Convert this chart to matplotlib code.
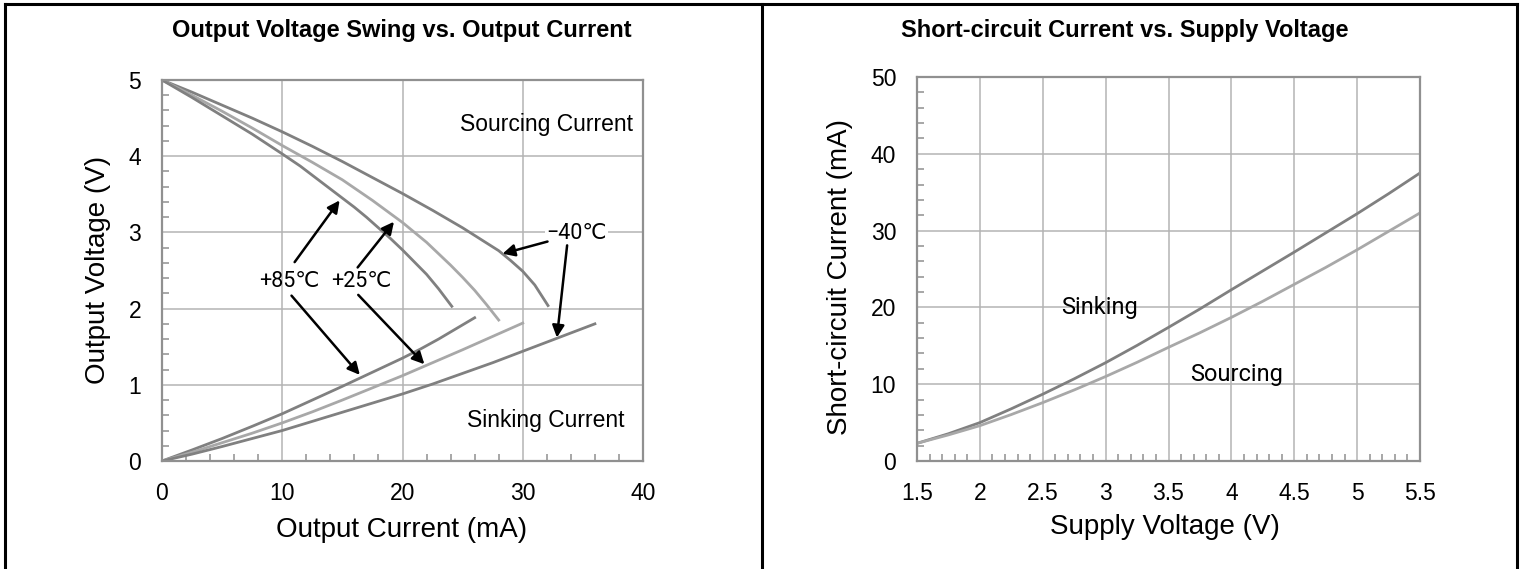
import matplotlib
matplotlib.use('Agg')
import matplotlib.pyplot as plt
from matplotlib.lines import Line2D
from matplotlib.ticker import MultipleLocator
from matplotlib import font_manager

# ---- left chart: output voltage swing vs output current ----
src_m40_i = [0, 2.5, 5, 7.5, 10, 12.5, 15, 17.5, 20, 22.5, 25, 26.5, 28, 29, 30, 31, 32.1]
src_m40_v = [5.0, 4.84, 4.67, 4.50, 4.32, 4.13, 3.93, 3.72, 3.51, 3.29, 3.06, 2.91,
             2.76, 2.63, 2.49, 2.31, 2.04]
src_25_i = [0, 2.5, 5, 7.5, 10, 12.5, 15, 17.5, 20, 21, 22, 23, 24, 25, 26, 27, 28]
src_25_v = [5.0, 4.80, 4.59, 4.37, 4.14, 3.92, 3.69, 3.42, 3.13, 3.00, 2.87, 2.72,
            2.57, 2.41, 2.24, 2.05, 1.85]
src_85_i = [0, 2.5, 5, 7.5, 10, 11.5, 13, 14.5, 16, 17, 18, 19, 20, 21, 22, 23, 24.1]
src_85_v = [5.0, 4.77, 4.53, 4.29, 4.03, 3.87, 3.69, 3.51, 3.33, 3.20, 3.06, 2.92,
            2.77, 2.61, 2.45, 2.26, 2.03]

snk_85_i = [0, 2.5, 5, 7.5, 10, 12.5, 15, 17.5, 20, 21.5, 23, 24.5, 26]
snk_85_v = [0, 0.145, 0.295, 0.455, 0.62, 0.80, 0.98, 1.165, 1.35, 1.47, 1.60, 1.74, 1.88]
snk_25_i = [0, 2.5, 5, 7.5, 10, 12.5, 15, 17.5, 20, 22.5, 25, 27.5, 30]
snk_25_v = [0, 0.115, 0.24, 0.365, 0.50, 0.645, 0.80, 0.96, 1.12, 1.29, 1.46, 1.635, 1.81]
snk_m40_i = [0, 2.5, 5, 7.5, 10, 12.5, 15, 17.5, 20, 22.5, 25, 27.5, 30, 32, 34, 36]
snk_m40_v = [0, 0.09, 0.19, 0.295, 0.40, 0.52, 0.64, 0.76, 0.88, 1.01, 1.15, 1.29,
             1.44, 1.56, 1.68, 1.80]

# ---- right chart: short-circuit current vs supply voltage ----
supply_v = [1.5, 1.75, 2.0, 2.25, 2.5, 2.75, 3.0, 3.25, 3.5, 3.75, 4.0, 4.25, 4.5,
            4.75, 5.0, 5.25, 5.5]
sinking_ma = [2.3, 3.55, 5.0, 6.8, 8.7, 10.7, 12.8, 15.05, 17.4, 19.8, 22.3, 24.75,
              27.2, 29.7, 32.2, 34.8, 37.5]
sourcing_ma = [2.3, 3.4, 4.6, 6.05, 7.6, 9.25, 11.0, 12.85, 14.8, 16.7, 18.7, 20.8,
               23.0, 25.2, 27.5, 29.9, 32.3]
supply_ticks = ['1.5', '2', '2.5', '3', '3.5', '4', '4.5', '5', '5.5']

dark = '#808080'
light = '#a8a8a8'
gridc = '#b4b4b4'
spinec = '#909090'

plt.rcParams['font.family'] = ['Liberation Sans', 'DejaVu Sans']
dinfont = ['Roboto', 'DejaVu Sans']

# narrow bold face for the titles, if it is there
names = {f.name for f in font_manager.fontManager.ttflist}
if 'Liberation Sans Narrow' in names:
    title_font, title_size = ['Liberation Sans Narrow'], 20.5
else:
    title_font, title_size = ['Liberation Sans'], 17

fig = plt.figure(figsize=(15.21, 5.69), dpi=100)
W, H = 1521.0, 569.0

def style(ax):
    ax.grid(True, which='major', color=gridc, lw=1.1)
    ax.set_axisbelow(True)
    for s in ax.spines.values():
        s.set_color(spinec)
        s.set_linewidth(1.6)
    ax.tick_params(which='major', length=0, pad=15, labelsize=16.5)
    ax.tick_params(which='minor', direction='in', length=5, width=1.1,
                   color=spinec, top=False, right=False)

# left axes
ax1 = fig.add_axes([162 / W, 1 - 461 / H, 481 / W, 381 / H])
ax1.plot(src_m40_i, src_m40_v, color=dark, lw=2)
ax1.plot(src_25_i, src_25_v, color=light, lw=2)
ax1.plot(src_85_i, src_85_v, color=dark, lw=2)
ax1.plot(snk_85_i, snk_85_v, color=dark, lw=2)
ax1.plot(snk_25_i, snk_25_v, color=light, lw=2)
ax1.plot(snk_m40_i, snk_m40_v, color=dark, lw=2)
ax1.set_xlim(0, 40)
ax1.set_ylim(0, 5)
ax1.xaxis.set_major_locator(MultipleLocator(10))
ax1.xaxis.set_minor_locator(MultipleLocator(2))
ax1.yaxis.set_major_locator(MultipleLocator(1))
ax1.yaxis.set_minor_locator(MultipleLocator(0.2))
style(ax1)

ax1.text(32.0, 4.41, 'Sourcing Current', ha='center', va='center', fontsize=16.5)
ax1.text(31.9, 0.53, 'Sinking Current', ha='center', va='center', fontsize=16.5)

arrow = dict(arrowstyle='-|>', color='black', lw=1.8, mutation_scale=18,
             shrinkA=0, shrinkB=0)
ax1.text(10.6, 2.35, '+85℃', ha='center', va='center', fontsize=15.5, family=dinfont)
ax1.text(16.6, 2.35, '+25℃', ha='center', va='center', fontsize=15.5, family=dinfont)
ax1.text(34.5, 2.99, '−40℃', ha='center', va='center', fontsize=15.5, family=dinfont,
         bbox=dict(facecolor='white', edgecolor='none', pad=1))
ax1.annotate('', xy=(14.77, 3.42), xytext=(11.03, 2.61), arrowprops=arrow)
ax1.annotate('', xy=(16.45, 1.13), xytext=(10.77, 2.17), arrowprops=arrow)
ax1.annotate('', xy=(19.29, 3.14), xytext=(16.27, 2.54), arrowprops=arrow)
ax1.annotate('', xy=(21.82, 1.27), xytext=(16.32, 2.18), arrowprops=arrow)
ax1.annotate('', xy=(28.32, 2.72), xytext=(32.06, 2.88), arrowprops=arrow)
ax1.annotate('', xy=(32.84, 1.62), xytext=(33.69, 2.83), arrowprops=arrow)

# right axes
ax2 = fig.add_axes([917 / W, 1 - 461 / H, 503 / W, 384 / H])
ax2.plot(supply_v, sinking_ma, color=dark, lw=2)
ax2.plot(supply_v, sourcing_ma, color=light, lw=2)
ax2.set_xlim(1.5, 5.5)
ax2.set_ylim(0, 50)
ax2.xaxis.set_minor_locator(MultipleLocator(0.1))
ax2.yaxis.set_major_locator(MultipleLocator(10))
ax2.yaxis.set_minor_locator(MultipleLocator(2))
ax2.set_xticks([float(t) for t in supply_ticks])
ax2.set_xticklabels(supply_ticks)
style(ax2)
ax2.text(2.95, 20.0, 'Sinking', ha='center', va='center', fontsize=17, family=dinfont)
ax2.text(4.04, 11.3, 'Sourcing', ha='center', va='center', fontsize=17, family=dinfont)

# titles and axis labels
fig.text(402 / W, 1 - 31 / H, 'Output Voltage Swing vs. Output Current',
         ha='center', va='center', fontsize=title_size, fontweight='bold',
         family=title_font)
fig.text(1125 / W, 1 - 31 / H, 'Short-circuit Current vs. Supply Voltage',
         ha='center', va='center', fontsize=title_size, fontweight='bold',
         family=title_font)
fig.text(402 / W, 1 - 530 / H, 'Output Current (mA)', ha='center', va='center', fontsize=20)
fig.text(98 / W, 1 - 270 / H, 'Output Voltage (V)', ha='center', va='center',
         rotation=90, fontsize=20)
fig.text(1165 / W, 1 - 527 / H, 'Supply Voltage (V)', ha='center', va='center', fontsize=20)
fig.text(840 / W, 1 - 277 / H, 'Short-circuit Current (mA)', ha='center', va='center',
         rotation=90, fontsize=20)

# panel frames
for xs, ys in [([5, 1517], [3.5, 3.5]), ([5, 5], [3.5, 569]),
               ([761.5, 761.5], [3.5, 569]), ([1517, 1517], [3.5, 569])]:
    fig.add_artist(Line2D([x / W for x in xs], [1 - y / H for y in ys],
                          color='black', lw=2.2))

fig.savefig('out.png', dpi=100)
